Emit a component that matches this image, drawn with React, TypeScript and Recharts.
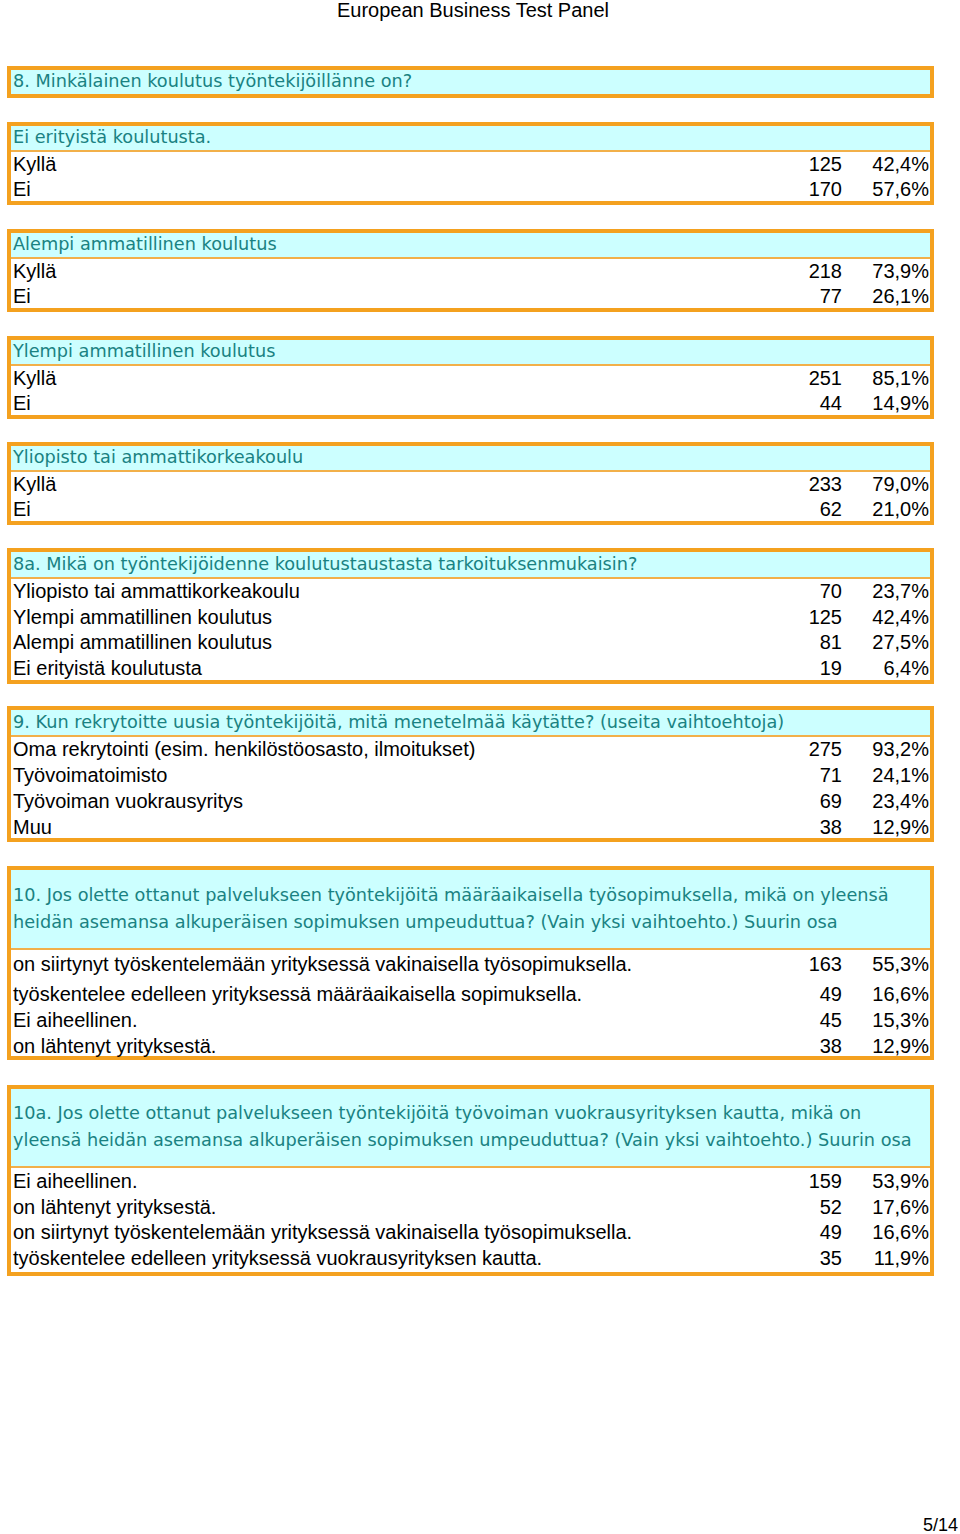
import React from 'react';
import { Surface, Rectangle, Text, Layer } from 'recharts';

const pageTitle = 'European Business Test Panel';
const pageNumber = '5/14';

const q8Title = '8. Minkälainen koulutus työntekijöillänne on?';
const q8Groups = [
  'Ei erityistä koulutusta.',
  'Alempi ammatillinen koulutus',
  'Ylempi ammatillinen koulutus',
  'Yliopisto tai ammattikorkeakoulu',
];
const q8Answers = ['Kyllä', 'Ei'];
const q8Counts = [
  [125, 170],
  [218, 77],
  [251, 44],
  [233, 62],
];
const q8Shares = [
  [42.4, 57.6],
  [73.9, 26.1],
  [85.1, 14.9],
  [79.0, 21.0],
];

const q8aTitle = ['8a. Mikä on työntekijöidenne koulutustaustasta tarkoituksenmukaisin?'];
const q8aAnswers = [
  'Yliopisto tai ammattikorkeakoulu',
  'Ylempi ammatillinen koulutus',
  'Alempi ammatillinen koulutus',
  'Ei erityistä koulutusta',
];
const q8aCounts = [70, 125, 81, 19];
const q8aShares = [23.7, 42.4, 27.5, 6.4];

const q9Title = ['9. Kun rekrytoitte uusia työntekijöitä, mitä menetelmää käytätte? (useita vaihtoehtoja)'];
const q9Answers = [
  'Oma rekrytointi (esim. henkilöstöosasto, ilmoitukset)',
  'Työvoimatoimisto',
  'Työvoiman vuokrausyritys',
  'Muu',
];
const q9Counts = [275, 71, 69, 38];
const q9Shares = [93.2, 24.1, 23.4, 12.9];

const q10Title = [
  '10. Jos olette ottanut palvelukseen työntekijöitä määräaikaisella työsopimuksella, mikä on yleensä',
  'heidän asemansa alkuperäisen sopimuksen umpeuduttua? (Vain yksi vaihtoehto.) Suurin osa',
];
const q10Answers = [
  'on siirtynyt työskentelemään yrityksessä vakinaisella työsopimuksella.',
  'työskentelee edelleen yrityksessä määräaikaisella sopimuksella.',
  'Ei aiheellinen.',
  'on lähtenyt yrityksestä.',
];
const q10Counts = [163, 49, 45, 38];
const q10Shares = [55.3, 16.6, 15.3, 12.9];

const q10aTitle = [
  '10a. Jos olette ottanut palvelukseen työntekijöitä työvoiman vuokrausyrityksen kautta, mikä on',
  'yleensä heidän asemansa alkuperäisen sopimuksen umpeuduttua? (Vain yksi vaihtoehto.) Suurin osa',
];
const q10aAnswers = [
  'Ei aiheellinen.',
  'on lähtenyt yrityksestä.',
  'on siirtynyt työskentelemään yrityksessä vakinaisella työsopimuksella.',
  'työskentelee edelleen yrityksessä vuokrausyrityksen kautta.',
];
const q10aCounts = [159, 52, 49, 35];
const q10aShares = [53.9, 17.6, 16.6, 11.9];

const W = 960;
const H = 1534;
const LEFT = 7;
const RIGHT = 934;
const TEXT_X = 13;
const COUNT_X = 842;
const SHARE_X = 929;

const ORANGE = '#f4a11f';
const HEAD_BG = '#ccffff';
const TEAL = '#1a8282';
const HEAD_FONT = '"DejaVu Sans", Verdana, sans-serif';
const ROW_FONT = '"Liberation Sans", Arial, sans-serif';

const fmtShare = (v: number) => v.toFixed(1).replace('.', ',') + '%';

type BoxProps = {
  top: number;
  bottom: number;
  sep?: number;
  headY: number[];
  head: string[];
  rowY?: number[];
  labels?: string[];
  counts?: number[];
  shares?: number[];
};

const Box = ({ top, bottom, sep, headY, head, rowY = [], labels = [], counts = [], shares = [] }: BoxProps) => {
  const headBottom = sep ?? bottom;
  return (
    <Layer>
      <Rectangle x={LEFT} y={top} width={RIGHT - LEFT} height={bottom - top} fill="#fff" />
      <Rectangle x={LEFT} y={top} width={RIGHT - LEFT} height={headBottom - top} fill={HEAD_BG} />
      {sep !== undefined && (
        <line x1={LEFT} x2={RIGHT} y1={sep} y2={sep} stroke="#f2b04a" strokeWidth={2} />
      )}
      <Rectangle
        x={LEFT + 2}
        y={top + 2}
        width={RIGHT - LEFT - 4}
        height={bottom - top - 4}
        fill="none"
        stroke={ORANGE}
        strokeWidth={4}
      />
      {head.map((t, i) => (
        <Text key={'h' + i} x={TEXT_X} y={headY[i]} verticalAnchor="middle" fill={TEAL}
          style={{ fontFamily: HEAD_FONT, fontSize: 17.7 }}>
          {t}
        </Text>
      ))}
      {labels.map((t, i) => (
        <Layer key={'r' + i} style={{ fontFamily: ROW_FONT, fontSize: 20 }}>
          <Text x={TEXT_X} y={rowY[i]} verticalAnchor="middle" fill="#000">{t}</Text>
          <Text x={COUNT_X} y={rowY[i]} verticalAnchor="middle" textAnchor="end" fill="#000">
            {String(counts[i])}
          </Text>
          <Text x={SHARE_X} y={rowY[i]} verticalAnchor="middle" textAnchor="end" fill="#000">
            {fmtShare(shares[i])}
          </Text>
        </Layer>
      ))}
    </Layer>
  );
};

const q8Tops = [122, 229, 336, 442];

export default function App() {
  return (
    <div style={{ position: 'absolute', left: 0, top: 0, width: W, height: H, background: '#fff' }}>
      <Surface width={W} height={H}>
        <Text x={473} y={10} textAnchor="middle" verticalAnchor="middle" fill="#000"
          style={{ fontFamily: ROW_FONT, fontSize: 20 }}>
          {pageTitle}
        </Text>

        <Box top={66} bottom={98} headY={[81]} head={[q8Title]} />

        {q8Groups.map((g, gi) => {
          const t = q8Tops[gi];
          return (
            <Box
              key={g}
              top={t}
              bottom={t + 83}
              sep={t + 29}
              headY={[t + 15]}
              head={[g]}
              rowY={[t + 42, t + 67]}
              labels={q8Answers}
              counts={q8Counts[gi]}
              shares={q8Shares[gi]}
            />
          );
        })}

        <Box top={548} bottom={684} sep={578} headY={[564]} head={q8aTitle}
          rowY={[591, 617, 642, 668]} labels={q8aAnswers} counts={q8aCounts} shares={q8aShares} />

        <Box top={706} bottom={842} sep={736} headY={[722]} head={q9Title}
          rowY={[749, 775, 801, 827]} labels={q9Answers} counts={q9Counts} shares={q9Shares} />

        <Box top={866} bottom={1060} sep={949} headY={[895, 922]} head={q10Title}
          rowY={[964, 994, 1020, 1046]} labels={q10Answers} counts={q10Counts} shares={q10Shares} />

        <Box top={1085} bottom={1276} sep={1167} headY={[1113, 1140]} head={q10aTitle}
          rowY={[1181, 1207, 1232, 1258]} labels={q10aAnswers} counts={q10aCounts} shares={q10aShares} />

        <Text x={958} y={1525} textAnchor="end" verticalAnchor="middle" fill="#000"
          style={{ fontFamily: ROW_FONT, fontSize: 18 }}>
          {pageNumber}
        </Text>
      </Surface>
    </div>
  );
}
